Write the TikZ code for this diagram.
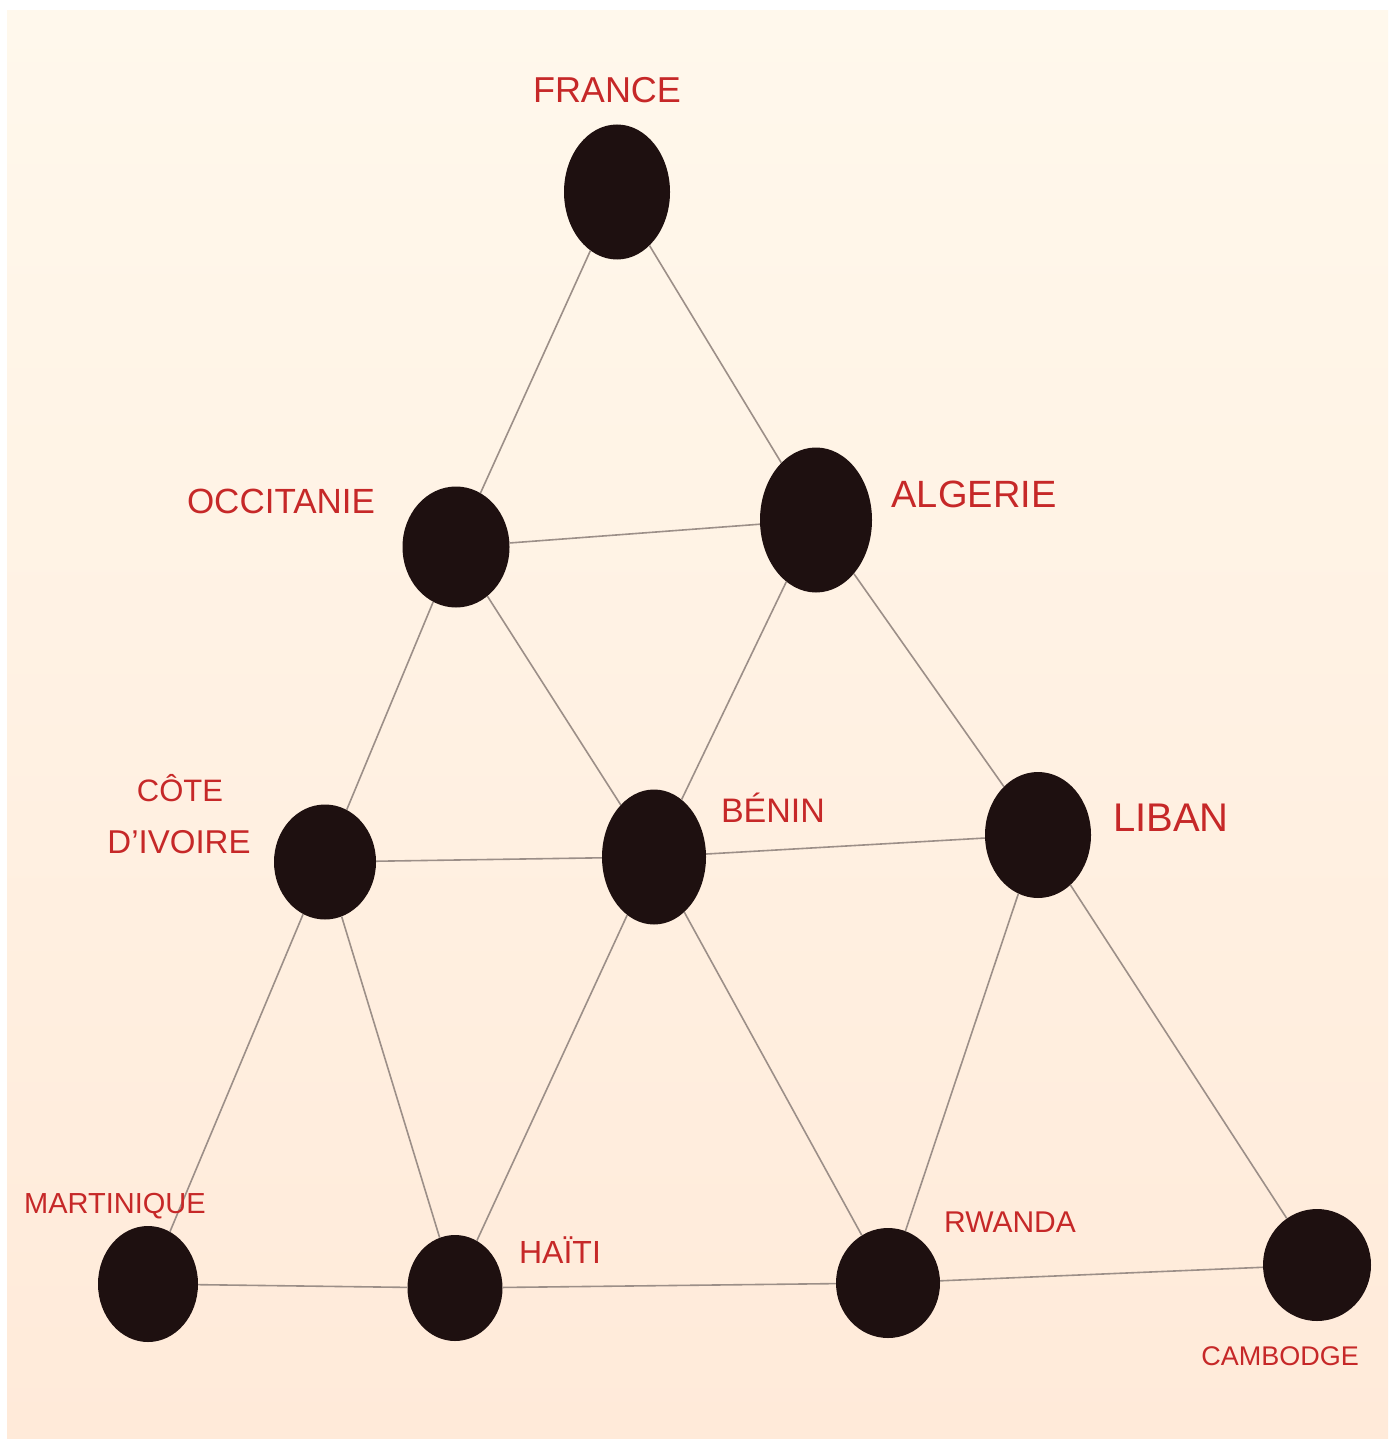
\documentclass[tikz,border=0pt]{standalone}
\usepackage{fontspec}
\setmainfont{Liberation Sans}
\usetikzlibrary{shapes.geometric}
\definecolor{paperTop}{HTML}{FFF8EC}
\definecolor{paperBot}{HTML}{FFEAD9}
\definecolor{dotcol}{HTML}{1E1010}
\definecolor{inkred}{HTML}{C62828}
\definecolor{linecol}{HTML}{9C8F88}
\tikzset{
  dot/.style={ellipse, fill=dotcol, inner sep=0pt},
  lab/.style={text=inkred, inner sep=0pt, font=\fontsize{#1}{#1}\selectfont},
  lab/.default=34,
  edge/.style={draw=linecol, line width=1.6pt}
}
\begin{document}
\begin{tikzpicture}[x=1pt,y=-1pt]
\useasboundingbox (0,0) rectangle (1392,1439);
\fill[white] (0,0) rectangle (1392,1439);
\shade[top color=paperTop, bottom color=paperBot] (7,11) rectangle (1388,1439);

% dots
\node[dot, minimum width=106pt, minimum height=135pt] (fr) at (617,192) {};
\node[dot, minimum width=107pt, minimum height=121pt] (oc) at (456,547) {};
\node[dot, minimum width=112pt, minimum height=145pt] (al) at (816,520) {};
\node[dot, minimum width=102pt, minimum height=115pt] (ci) at (325,862) {};
\node[dot, minimum width=104pt, minimum height=135pt] (be) at (654,857) {};
\node[dot, minimum width=106pt, minimum height=126pt] (li) at (1038,835) {};
\node[dot, minimum width=100pt, minimum height=116pt] (ma) at (148,1284) {};
\node[dot, minimum width=95pt, minimum height=106pt] (ha) at (455,1288) {};
\node[dot, minimum width=104pt, minimum height=110pt] (rw) at (888,1283) {};
\node[dot, minimum width=108pt, minimum height=112pt] (ca) at (1317,1265) {};

% edges
\begin{scope}[on background layer/.try]
\end{scope}
\draw[edge] (fr) -- (oc);
\draw[edge] (fr) -- (al);
\draw[edge] (oc) -- (al);
\draw[edge] (oc) -- (ci);
\draw[edge] (oc) -- (be);
\draw[edge] (al) -- (be);
\draw[edge] (al) -- (li);
\draw[edge] (ci) -- (be);
\draw[edge] (be) -- (li);
\draw[edge] (ci) -- (ma);
\draw[edge] (ci) -- (ha);
\draw[edge] (be) -- (ha);
\draw[edge] (be) -- (rw);
\draw[edge] (li) -- (rw);
\draw[edge] (li) -- (ca);
\draw[edge] (ma) -- (ha);
\draw[edge] (ha) -- (rw);
\draw[edge] (rw) -- (ca);

% labels
\node[lab=36] (lfr) at (607,90) {FRANCE};
\node[lab=35] (loc) at (281,501) {OCCITANIE};
\node[lab=38] (lal) at (974,494) {ALGERIE};
\node[lab=31] (lci1) at (180,788) {CÔTE};
\node[lab=33] (lci2) at (179,842) {D'IVOIRE};
\node[lab=34] (lbe) at (773,808) {BÉNIN};
\node[lab=40] (lli) at (1171,818) {LIBAN};
\node[lab=29] (lma) at (115,1206) {MARTINIQUE};
\node[lab=32] (lha) at (560,1250) {HAÏTI};
\node[lab=30] (lrw) at (1010,1222) {RWANDA};
\node[lab=27] (lca) at (1280,1356) {CAMBODGE};
\end{tikzpicture}
\end{document}
